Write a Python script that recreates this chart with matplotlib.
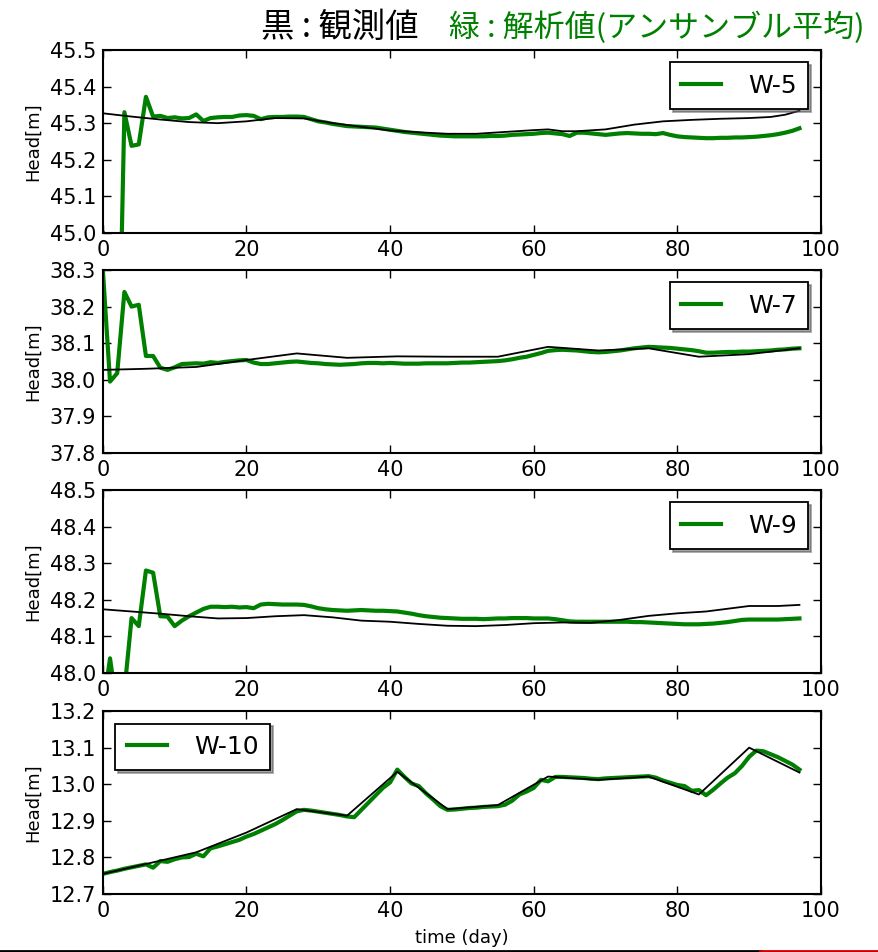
import numpy as np
import matplotlib
matplotlib.use('Agg')
from matplotlib import pyplot as plt
from matplotlib.ticker import FormatStrFormatter, MultipleLocator
from matplotlib.lines import Line2D

# analysed (ensemble mean), one value per day 0..97
days = np.arange(98)

w5_ana = [45.00, 44.60, 44.40, 45.330, 45.238, 45.242, 45.372, 45.318, 45.320, 45.314,
          45.316, 45.313, 45.314, 45.324, 45.306, 45.314, 45.316, 45.317, 45.317, 45.321,
          45.322, 45.320, 45.311, 45.316, 45.317, 45.317, 45.318, 45.318, 45.317, 45.311,
          45.305, 45.302, 45.298, 45.295, 45.292, 45.291, 45.290, 45.289, 45.288, 45.285,
          45.282, 45.279, 45.276, 45.274, 45.272, 45.270, 45.268, 45.266, 45.265, 45.264,
          45.264, 45.264, 45.264, 45.264, 45.265, 45.265, 45.266, 45.268, 45.269, 45.270,
          45.271, 45.273, 45.274, 45.272, 45.270, 45.265, 45.274, 45.274, 45.272, 45.270,
          45.268, 45.270, 45.272, 45.273, 45.272, 45.271, 45.271, 45.270, 45.273, 45.268,
          45.264, 45.262, 45.261, 45.260, 45.259, 45.259, 45.260, 45.260, 45.261, 45.261,
          45.262, 45.263, 45.265, 45.267, 45.270, 45.274, 45.279, 45.286]

w7_ana = [38.300, 37.995, 38.018, 38.240, 38.200, 38.205, 38.065, 38.065, 38.033, 38.027,
          38.034, 38.043, 38.044, 38.045, 38.044, 38.048, 38.046, 38.049, 38.051, 38.053,
          38.054, 38.047, 38.043, 38.043, 38.045, 38.047, 38.049, 38.050, 38.048, 38.046,
          38.045, 38.043, 38.042, 38.041, 38.042, 38.043, 38.045, 38.046, 38.046, 38.045,
          38.046, 38.045, 38.044, 38.044, 38.044, 38.045, 38.045, 38.045, 38.045, 38.046,
          38.047, 38.047, 38.048, 38.049, 38.050, 38.051, 38.053, 38.056, 38.060, 38.063,
          38.068, 38.073, 38.079, 38.081, 38.082, 38.081, 38.080, 38.078, 38.076, 38.075,
          38.076, 38.078, 38.080, 38.083, 38.086, 38.088, 38.090, 38.089, 38.088, 38.087,
          38.085, 38.083, 38.081, 38.078, 38.074, 38.074, 38.075, 38.076, 38.076, 38.077,
          38.077, 38.078, 38.079, 38.080, 38.082, 38.083, 38.085, 38.086]

w9_ana = [47.900, 48.040, 47.900, 47.950, 48.150, 48.128, 48.280, 48.274, 48.155, 48.154,
          48.128, 48.143, 48.155, 48.165, 48.175, 48.181, 48.181, 48.180, 48.181, 48.179,
          48.180, 48.177, 48.187, 48.189, 48.188, 48.187, 48.187, 48.187, 48.186, 48.182,
          48.177, 48.174, 48.172, 48.171, 48.170, 48.171, 48.172, 48.171, 48.170, 48.170,
          48.169, 48.168, 48.165, 48.162, 48.158, 48.155, 48.153, 48.151, 48.150, 48.149,
          48.148, 48.148, 48.148, 48.147, 48.148, 48.149, 48.149, 48.150, 48.150, 48.150,
          48.149, 48.149, 48.149, 48.147, 48.144, 48.141, 48.140, 48.140, 48.140, 48.140,
          48.140, 48.140, 48.140, 48.140, 48.139, 48.139, 48.138, 48.137, 48.136, 48.135,
          48.134, 48.133, 48.133, 48.133, 48.134, 48.135, 48.137, 48.139, 48.142, 48.145,
          48.146, 48.146, 48.146, 48.146, 48.146, 48.147, 48.148, 48.149]

w10_ana = [12.755, 12.760, 12.764, 12.769, 12.773, 12.777, 12.781, 12.772, 12.790, 12.788,
           12.795, 12.800, 12.801, 12.810, 12.803, 12.825, 12.830, 12.836, 12.842, 12.848,
           12.857, 12.864, 12.873, 12.882, 12.891, 12.902, 12.914, 12.926, 12.930, 12.928,
           12.925, 12.922, 12.919, 12.916, 12.912, 12.910, 12.930, 12.950, 12.970, 12.990,
           13.005, 13.040, 13.020, 13.002, 12.995, 12.975, 12.958, 12.940, 12.930, 12.931,
           12.933, 12.935, 12.936, 12.938, 12.939, 12.940, 12.944, 12.955, 12.972, 12.980,
           12.990, 13.012, 13.008, 13.020, 13.020, 13.019, 13.018, 13.017, 13.015, 13.014,
           13.016, 13.017, 13.018, 13.019, 13.020, 13.021, 13.022, 13.018, 13.010, 13.004,
           12.998, 12.995, 12.982, 12.984, 12.970, 12.985, 13.002, 13.018, 13.030, 13.050,
           13.075, 13.092, 13.090, 13.082, 13.074, 13.064, 13.054, 13.040]

# observed heads
w5_obs_days = [0, 4, 8, 12, 16, 20, 24, 28, 32, 36, 40, 44, 48, 52, 56, 60, 62, 64, 66,
               70, 74, 78, 82, 86, 90, 93, 95, 97]
w5_obs = [45.327, 45.318, 45.310, 45.303, 45.300, 45.305, 45.314, 45.313, 45.300, 45.290,
          45.280, 45.275, 45.271, 45.271, 45.276, 45.281, 45.283, 45.278, 45.278, 45.283,
          45.296, 45.305, 45.309, 45.312, 45.314, 45.317, 45.323, 45.334]

w7_obs_days = [0, 6, 13, 20, 27, 34, 41, 48, 55, 62, 69, 76, 83, 90, 97]
w7_obs = [38.027, 38.030, 38.035, 38.054, 38.072, 38.060, 38.064, 38.063, 38.063, 38.090,
          38.080, 38.086, 38.063, 38.070, 38.086]

w9_obs_days = [0, 4, 8, 12, 16, 20, 24, 28, 32, 36, 40, 44, 48, 52, 56, 60, 64, 68, 72,
               76, 80, 84, 88, 90, 94, 97]
w9_obs = [48.174, 48.168, 48.162, 48.155, 48.149, 48.150, 48.155, 48.158, 48.152, 48.143,
          48.140, 48.134, 48.129, 48.128, 48.131, 48.136, 48.138, 48.137, 48.145, 48.156,
          48.163, 48.168, 48.178, 48.183, 48.183, 48.186]

w10_obs_days = [0, 6, 13, 20, 27, 34, 41, 48, 55, 62, 69, 76, 83, 90, 97]
w10_obs = [12.755, 12.782, 12.814, 12.868, 12.932, 12.914, 13.034, 12.932, 12.943, 13.021,
           13.012, 13.021, 12.972, 13.100, 13.032]

wells = ['W-5', 'W-7', 'W-9', 'W-10']
ylims = [(45.0, 45.5), (37.8, 38.3), (48.0, 48.5), (12.7, 13.2)]
legend_locs = ['upper right', 'upper right', 'upper right', 'upper left']

panels = [(w5_ana, w5_obs_days, w5_obs),
          (w7_ana, w7_obs_days, w7_obs),
          (w9_ana, w9_obs_days, w9_obs),
          (w10_ana, w10_obs_days, w10_obs)]

fig = plt.figure(figsize=(8.79, 9.52), dpi=100)
left, width = 0.117, 0.817
bottoms = [0.7553, 0.5242, 0.2931, 0.0609]
height = 0.1922

for i, (ana, obs_days, obs) in enumerate(panels):
    ax = fig.add_axes([left, bottoms[i], width, height])
    ax.plot(days, ana, color='green', lw=3.0, label=wells[i])
    ax.plot(obs_days, obs, color='black', lw=1.3)
    ax.set_xlim(0, 100)
    ax.set_ylim(*ylims[i])
    ax.xaxis.set_major_locator(MultipleLocator(20))
    ax.yaxis.set_major_locator(MultipleLocator(0.1))
    ax.yaxis.set_major_formatter(FormatStrFormatter('%.1f'))
    ax.tick_params(direction='in', top=True, right=True, length=6, width=1.0,
                   labelsize=15, pad=5)
    for sp in ax.spines.values():
        sp.set_linewidth(1.5)
    ax.set_ylabel('Head[m]', fontsize=13)
    ax.yaxis.set_label_coords(-0.085, 0.5)
    leg = ax.legend(loc=legend_locs[i], fontsize=18, shadow=True, fancybox=False,
                    handlelength=1.6, handletextpad=1.1, borderpad=0.45,
                    borderaxespad=0.5)
    leg.get_frame().set_edgecolor('black')
    leg.get_frame().set_linewidth(1.3)
    if i == 3:
        ax.set_xlabel('time (day)', fontsize=13, labelpad=6)

cjk = ['Noto Sans CJK JP', 'DejaVu Sans']
fig.text(0.387, 0.971, '黒 : 観測値', color='black', fontsize=24, family=cjk,
         ha='center', va='center')
fig.text(0.984, 0.971, '緑 : 解析値(アンサンブル平均)', color='green', fontsize=22.3,
         family=cjk, ha='right', va='center')

# slide border at the bottom
fig.add_artist(Line2D([0, 0.865], [0.0015, 0.0015], transform=fig.transFigure,
                      color='black', lw=2))
fig.add_artist(Line2D([0.865, 1.0], [0.0015, 0.0015], transform=fig.transFigure,
                      color='#cc0000', lw=2))

fig.savefig('out.png', dpi=100)
